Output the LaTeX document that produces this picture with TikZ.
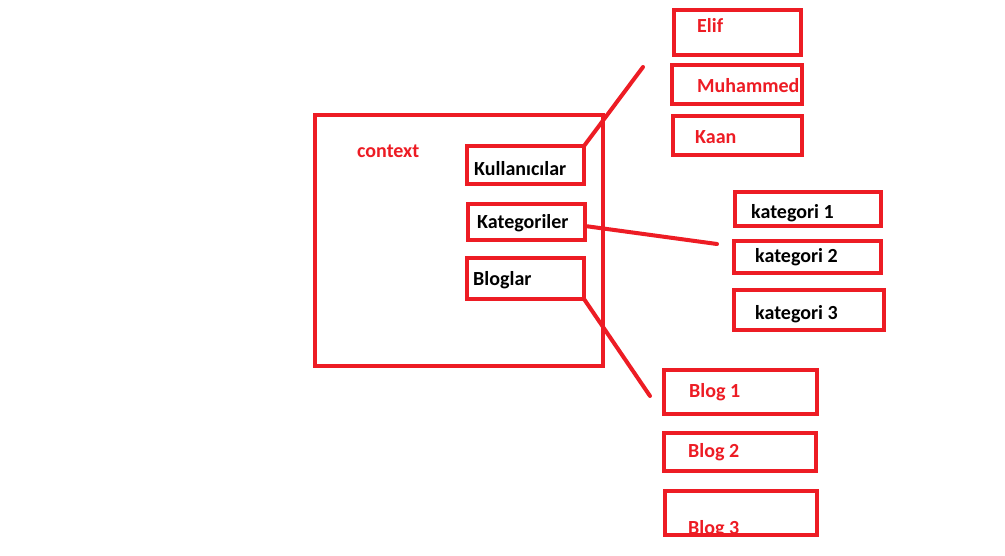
\documentclass[tikz,border=0pt]{standalone}
\usepackage{fontspec}
\setmainfont{Carlito}
\definecolor{pred}{RGB}{237,28,36}
\begin{document}
\begin{tikzpicture}[x=1pt,y=-1pt,
  box/.style={draw=pred,line width=4pt,inner sep=0pt,outer sep=0pt,anchor=north west},
  lbl/.style={font=\fontsize{20}{24}\selectfont\bfseries,inner sep=0pt,anchor=base west},
  rlbl/.style={lbl,text=pred},
  conn/.style={draw=pred,line width=4pt,line cap=round}]
\useasboundingbox[fill=white] (0,0) rectangle (1005,555);
% boxes
\node[box,minimum width=288pt,minimum height=251pt] (ctx) at (315,115) {};
\node[box,minimum width=117pt,minimum height=38pt] (kul) at (467,146) {};
\node[box,minimum width=117pt,minimum height=36pt] (kat) at (468,204) {};
\node[box,minimum width=117pt,minimum height=41pt] (blo) at (467,258) {};
\node[box,minimum width=127pt,minimum height=45pt] (elif) at (674,10) {};
\node[box,minimum width=130pt,minimum height=39pt] (muh) at (672,65) {};
\node[box,minimum width=129pt,minimum height=39pt] (kaan) at (673,116) {};
\node[box,minimum width=146pt,minimum height=34pt] (k1) at (735,192) {};
\node[box,minimum width=147pt,minimum height=32pt] (k2) at (734,241) {};
\node[box,minimum width=150pt,minimum height=40pt] (k3) at (734,290) {};
\node[box,minimum width=153pt,minimum height=44pt] (b1) at (664,370) {};
\node[box,minimum width=152pt,minimum height=38pt] (b2) at (664,433) {};
\node[box,minimum width=152pt,minimum height=44pt] (b3) at (665,491) {};
% labels
\node[rlbl] (tctx) at (357,157) {context};
\node[lbl] (tkul) at (474,175) {Kullanıcılar};
\node[lbl] (tkat) at (477,228) {Kategoriler};
\node[lbl] (tblo) at (473,285) {Bloglar};
\node[rlbl] (telif) at (697,32) {Elif};
\begin{scope}
  \clip ([shift={(2pt,-2pt)}]muh.north west) rectangle ([shift={(-2pt,2pt)}]muh.south east);
  \node[rlbl] (tmuh) at (697,92) {Muhammed};
\end{scope}
\node[rlbl] (tkaan) at (695,143) {Kaan};
\node[lbl] (tk1) at (751,218) {kategori 1};
\node[lbl] (tk2) at (755,262) {kategori 2};
\node[lbl] (tk3) at (755,319) {kategori 3};
\node[rlbl] (tb1) at (689,397) {Blog 1};
\node[rlbl] (tb2) at (688,457) {Blog 2};
\begin{scope}
  \clip ([shift={(2pt,-2pt)}]b3.north west) rectangle ([shift={(-2pt,2pt)}]b3.south east);
  \node[rlbl] (tb3) at (688,534) {Blog 3};
\end{scope}
% connectors
\coordinate (ue) at (643,67);
\coordinate (ke) at (717,244);
\coordinate (be) at (650,396);
\draw[conn] (kul.north east) -- (ue);
\draw[conn] ([yshift=-4pt]kat.east) -- (ke);
\draw[conn] (blo.south east) -- (be);
\end{tikzpicture}
\end{document}
